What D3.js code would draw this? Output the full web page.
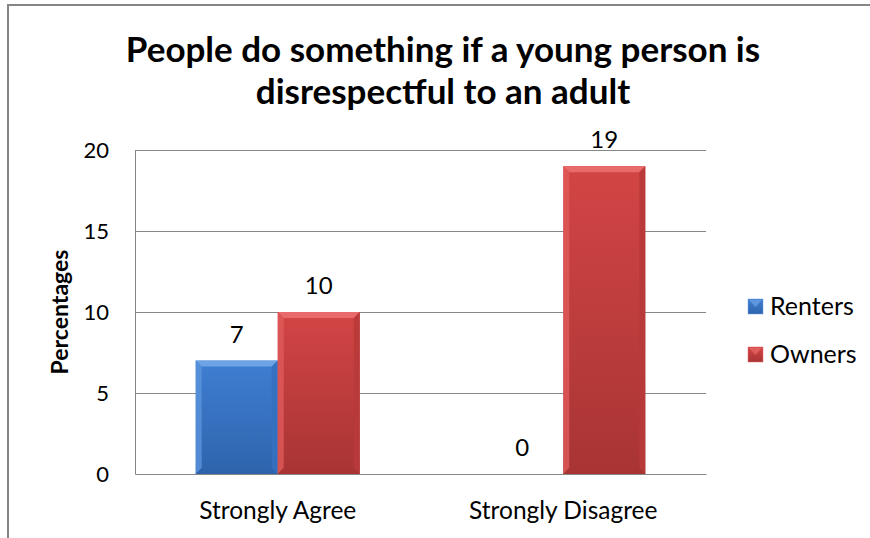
<!DOCTYPE html>
<html>
<head>
<meta charset="utf-8">
<script src="https://cdn.jsdelivr.net/npm/d3@7"></script>
<style>
  body { margin: 0; background: #fff; }
  text { font-family: Lato, "Open Sans", sans-serif; fill: #000; }
</style>
</head>
<body>
<script>
const categories = ["Strongly Agree", "Strongly Disagree"];
const seriesNames = ["Renters", "Owners"];
const renters = [7, 0];
const owners = [10, 19];
const yTicks = [0, 5, 10, 15, 20];

const colors = {
  Renters: {top: "#6ea3e6", mid: "#3f7ed2", bot: "#2f64ad", side: "#3570c0", bev: "#5b93dc"},
  Owners: {top: "#e86a6a", mid: "#d34545", bot: "#a83434", side: "#b83a3a", bev: "#e05a5a"}
};

const width = 870, height = 538;
const plot = {left: 135, right: 706, top: 150, bottom: 474};

const svg = d3.select("body").append("svg").attr("width", width).attr("height", height);
const defs = svg.append("defs");

seriesNames.forEach(function(s) {
  const g = defs.append("linearGradient").attr("id", "grad" + s)
    .attr("x1", 0).attr("y1", 0).attr("x2", 0).attr("y2", 1);
  g.append("stop").attr("offset", "0%").attr("stop-color", colors[s].mid);
  g.append("stop").attr("offset", "100%").attr("stop-color", colors[s].bot);
});

// chart frame
svg.append("rect").attr("x", 8).attr("y", 5).attr("width", 900).attr("height", 600)
  .attr("fill", "none").attr("stroke", "#868686").attr("stroke-width", 2);

const y = d3.scaleLinear().domain([0, 20]).range([plot.bottom, plot.top]);
const x0 = d3.scaleBand().domain(categories).range([plot.left, plot.right]);
const x1 = d3.scaleBand().domain(seriesNames).range([0, x0.bandwidth()]).paddingOuter(0.74).paddingInner(0);

// gridlines
svg.append("g").selectAll("line").data(yTicks.filter(function(d) { return d > 0; })).join("line")
  .attr("x1", plot.left).attr("x2", plot.right)
  .attr("y1", function(d) { return y(d); }).attr("y2", function(d) { return y(d); })
  .attr("stroke", "#868686").attr("stroke-width", 1).attr("shape-rendering", "crispEdges");

const rows = [];
categories.forEach(function(c, i) {
  rows.push({cat: c, s: "Renters", v: renters[i]});
  rows.push({cat: c, s: "Owners", v: owners[i]});
});

const bars = svg.append("g").selectAll("g").data(rows.filter(function(d) { return d.v > 0; })).join("g");
const bev = 6;
bars.each(function(d) {
  const g = d3.select(this);
  const bx = x0(d.cat) + x1(d.s), bw = x1.bandwidth();
  const by = y(d.v), bh = y(0) - y(d.v);
  const c = colors[d.s];
  g.append("rect").attr("x", bx).attr("y", by).attr("width", bw).attr("height", bh)
    .attr("fill", "url(#grad" + d.s + ")");
  // top bevel
  g.append("polygon").attr("points", [[bx, by], [bx + bw, by], [bx + bw - bev, by + bev], [bx + bev, by + bev]].join(" "))
    .attr("fill", c.top);
  // left bevel
  g.append("polygon").attr("points", [[bx, by], [bx + bev, by + bev], [bx + bev, by + bh - bev], [bx, by + bh]].join(" "))
    .attr("fill", c.bev).attr("opacity", 0.8);
  // right bevel
  g.append("polygon").attr("points", [[bx + bw, by], [bx + bw, by + bh], [bx + bw - bev, by + bh - bev], [bx + bw - bev, by + bev]].join(" "))
    .attr("fill", c.side).attr("opacity", 0.9);
  // bottom bevel
  g.append("polygon").attr("points", [[bx, by + bh], [bx + bev, by + bh - bev], [bx + bw - bev, by + bh - bev], [bx + bw, by + bh]].join(" "))
    .attr("fill", c.bot);
});

// value labels
svg.append("g").selectAll("text").data(rows).join("text")
  .attr("x", function(d) { return x0(d.cat) + x1(d.s) + x1.bandwidth() / 2; })
  .attr("y", function(d) { return y(d.v) - 18; })
  .attr("text-anchor", "middle").attr("font-size", 24)
  .text(function(d) { return d.v; });

// axes
const yAxis = d3.axisLeft(y).tickValues(yTicks).tickSize(0).tickPadding(26);
const gy = svg.append("g").attr("transform", "translate(" + plot.left + ",0)").call(yAxis);
gy.select(".domain").attr("stroke", "#868686");
gy.selectAll("text").attr("font-size", 22).attr("font-family", "Lato").attr("dy", "0.36em");

const xAxis = d3.axisBottom(x0).tickSize(0).tickPadding(28);
const gx = svg.append("g").attr("transform", "translate(0," + plot.bottom + ")").call(xAxis);
gx.select(".domain").attr("stroke", "#868686");
gx.selectAll("text").attr("font-size", 24.5).attr("font-family", "Lato");

// axis title
svg.append("text").attr("transform", "translate(68," + ((plot.top + plot.bottom) / 2) + ") rotate(-90)")
  .attr("text-anchor", "middle").attr("font-weight", "bold").attr("font-size", 23).text("Percentages");

// title
const title = svg.append("text").attr("text-anchor", "middle").attr("font-weight", "bold").attr("font-size", 35);
title.append("tspan").attr("x", 443).attr("y", 62).text("People do something if a young person is");
title.append("tspan").attr("x", 443).attr("y", 104).text("disrespectful to an adult");

// legend
const legend = svg.append("g").selectAll("g").data(seriesNames).join("g")
  .attr("transform", function(d, i) { return "translate(748," + (299 + i * 48) + ")"; });
legend.append("rect").attr("width", 15).attr("height", 15)
  .attr("fill", function(d) { return "url(#grad" + d + ")"; })
  .attr("stroke", function(d) { return colors[d].top; }).attr("stroke-width", 0.5);
legend.append("polygon").attr("points", "1,1 14,1 7.5,8").attr("fill", function(d) { return colors[d].top; }).attr("opacity", 0.7);
legend.append("text").attr("x", 22).attr("y", 16).attr("font-size", 25).text(function(d) { return d; });
</script>
</body>
</html>
